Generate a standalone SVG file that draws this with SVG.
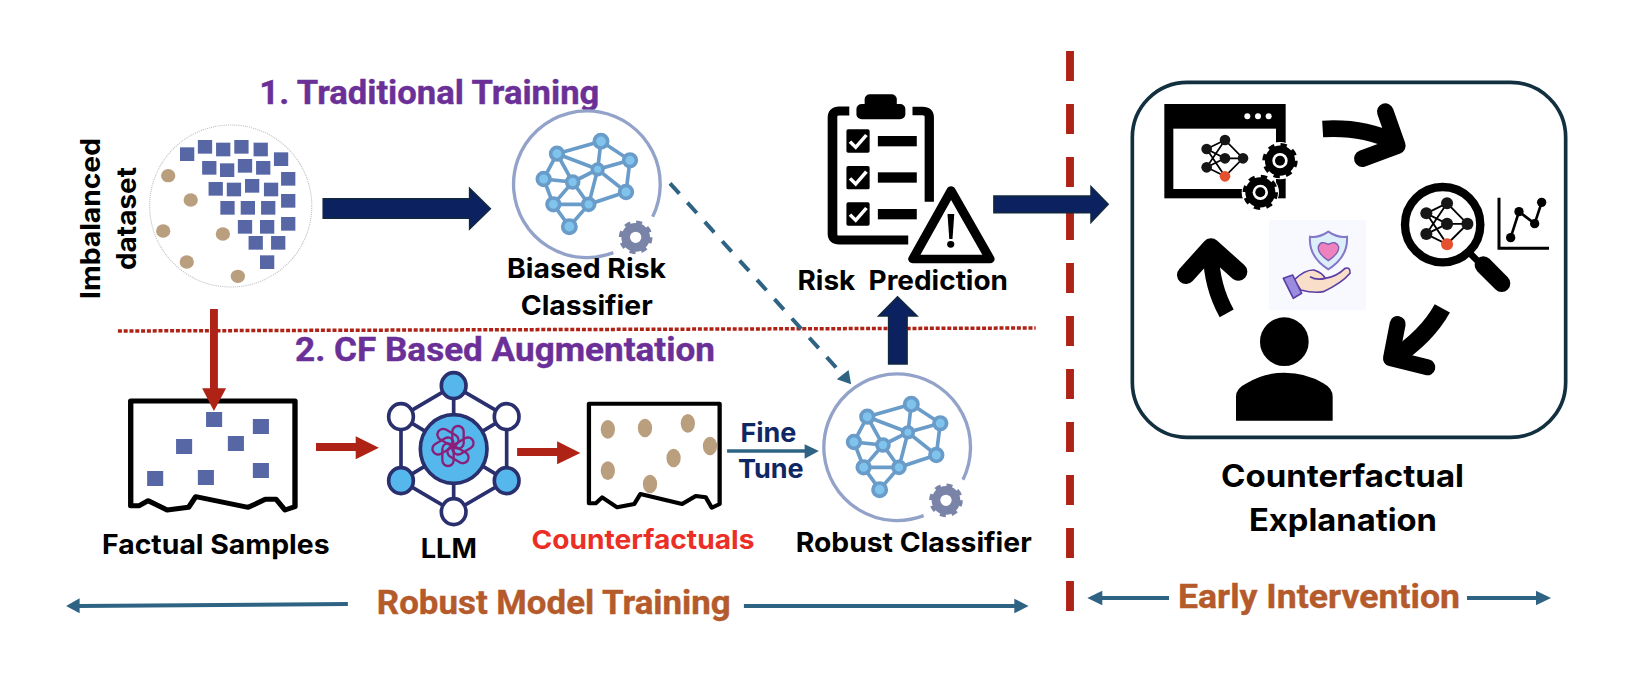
<svg xmlns="http://www.w3.org/2000/svg" xmlns:xlink="http://www.w3.org/1999/xlink" width="1636" height="686" viewBox="0 0 1636 686">
<style>
text{font-weight:700}
.b{font-family:"Inter","Liberation Sans",sans-serif;fill:#000;font-size:27px}
.p{font-family:"Roboto","Liberation Sans",sans-serif;fill:#6B3098;font-size:34px;stroke:#6B3098;stroke-width:.4}
.o{font-family:"Roboto","Liberation Sans",sans-serif;fill:#B55A2B;font-size:34px;stroke:#B55A2B;stroke-width:.4}
.n{font-family:"Inter","Liberation Sans",sans-serif;fill:#0F2763;font-size:26px}
.r{font-family:"Inter","Liberation Sans",sans-serif;fill:#EC2F26;font-size:26px}
.sq{fill:#5767A5}
.dot{fill:#BA9F7F}
.red{fill:#AF2316}
.navy{fill:#0C2260;stroke:#12283F;stroke-width:1.5}
.teal{fill:#2F6384}
.tl{stroke:#2F6384;fill:none}
.ed{stroke:#6A9CC9;stroke-width:11;fill:none}
.nd{fill:#80C4EE;stroke:#6A9CC9;stroke-width:11}
.k{stroke:#000;fill:none}
.hx{stroke:#2A2F6E;stroke-width:11;fill:none}
.kn{fill:none;stroke:#8A1F7A;stroke-width:7}
</style>
<defs>
<g id="gear">
<circle r="30" fill="none" stroke-width="26"/>
<circle r="43" fill="none" stroke-width="15" stroke-dasharray="17 16.8"/>
</g>
<g id="net">
<path class="ed" d="M171 161L303 124L390 181L378 276L293 208L303 124M390 181L293 208L171 161L218 246L131 237L171 161M131 237L160 313L218 246L266 313L293 208L218 246M160 313H266L378 276M160 313L208 380L266 313"/>
<g class="nd">
<circle cx="171" cy="161" r="19"/><circle cx="303" cy="124" r="20"/><circle cx="390" cy="181" r="19"/><circle cx="293" cy="208" r="16"/><circle cx="131" cy="237" r="19"/><circle cx="218" cy="246" r="18"/><circle cx="378" cy="276" r="19"/><circle cx="160" cy="313" r="19"/><circle cx="266" cy="313" r="18"/><circle cx="208" cy="380" r="20"/>
</g>
<path d="M340 458A220 220 0 1 1 458 350" fill="none" stroke="#93A2C8" stroke-width="10"/>
<use xlink:href="#gear" href="#gear" transform="translate(407 412)" stroke="#7A84A8"/>
</g>
<g id="mini">
<path d="M290 267L345 240L399 295L345 349L290 267M290 267L345 295L399 295M290 322L345 240M290 322L345 295M290 322L345 349M290 267L345 349" stroke="#000" stroke-width="5" fill="none"/>
<g fill="#161616"><circle cx="290" cy="267" r="16"/><circle cx="345" cy="240" r="16"/><circle cx="345" cy="295" r="16"/><circle cx="290" cy="322" r="16"/><circle cx="399" cy="295" r="16"/></g>
<circle cx="345" cy="349" r="16" fill="#E5502E"/>
</g>
<g id="wgear">
<circle r="56" fill="#fff"/>
<use xlink:href="#gear" href="#gear" stroke="#000" transform="scale(1.05)"/>
<circle r="23" fill="#fff"/><circle r="15" fill="#000"/>
</g>
</defs>

<rect width="1636" height="686" fill="#fff"/>

<g id="dataset" transform="translate(60 60) scale(.35714 .33333)">
<ellipse cx="478" cy="438" rx="227" ry="243" fill="none" stroke="#bbb" stroke-width="3" stroke-dasharray="3 3"/>
<g class="sq">
<rect x="336" y="262" width="40" height="41"/><rect x="386" y="240" width="40" height="41"/><rect x="437" y="248" width="40" height="41"/><rect x="488" y="240" width="40" height="41"/><rect x="542" y="248" width="40" height="41"/><rect x="599" y="277" width="40" height="41"/><rect x="398" y="303" width="40" height="41"/><rect x="448" y="310" width="40" height="41"/><rect x="498" y="297" width="40" height="41"/><rect x="549" y="303" width="40" height="41"/><rect x="619" y="336" width="40" height="41"/><rect x="416" y="366" width="40" height="41"/><rect x="467" y="368" width="40" height="41"/><rect x="518" y="357" width="40" height="41"/><rect x="571" y="368" width="40" height="41"/><rect x="619" y="402" width="40" height="41"/><rect x="449" y="423" width="40" height="41"/><rect x="506" y="423" width="40" height="41"/><rect x="563" y="423" width="40" height="41"/><rect x="498" y="480" width="40" height="41"/><rect x="560" y="480" width="40" height="41"/><rect x="619" y="471" width="40" height="41"/><rect x="528" y="528" width="40" height="41"/><rect x="591" y="528" width="40" height="41"/><rect x="560" y="586" width="40" height="41"/>
</g>
<g class="dot">
<circle cx="303" cy="347" r="20"/><circle cx="366" cy="420" r="20"/><circle cx="289" cy="513" r="20"/><circle cx="456" cy="522" r="20"/><circle cx="355" cy="606" r="20"/><circle cx="498" cy="649" r="20"/>
</g>
</g>
<g id="dataset-label">
<text class="b" transform="translate(100.4 299) rotate(-90)" textLength="161" lengthAdjust="spacingAndGlyphs">Imbalanced</text>
<text class="b" transform="translate(136 270) rotate(-90)" textLength="103" lengthAdjust="spacingAndGlyphs">dataset</text>
</g>

<g id="heading-1"><text class="p" x="259.3" y="104" textLength="340" lengthAdjust="spacingAndGlyphs">1. Traditional Training</text></g>
<g id="heading-2"><text class="p" x="295" y="361" textLength="420" lengthAdjust="spacingAndGlyphs">2. CF Based Augmentation</text></g>

<g id="biased-classifier">
<use xlink:href="#net" href="#net" transform="translate(500 100) scale(.33333)"/>
<text class="b" x="507" y="278" textLength="159" lengthAdjust="spacingAndGlyphs">Biased Risk</text>
<text class="b" x="520.7" y="315" textLength="132" lengthAdjust="spacingAndGlyphs">Classifier</text>
</g>

<g id="robust-classifier">
<use xlink:href="#net" href="#net" transform="translate(810.3 363) scale(.33333)"/>
<text class="b" x="795.7" y="552" textLength="236" lengthAdjust="spacingAndGlyphs">Robust Classifier</text>
</g>

<g id="risk-prediction">
<g transform="translate(560 60) scale(.35714 .33333)">
<path class="k" stroke-width="27" d="M810 153H782Q763 153 763 172V522Q763 540 782 540H975"/>
<path class="k" stroke-width="26" d="M987 153H1015Q1034 153 1034 172V425"/>
<rect x="830" y="132" width="137" height="46" rx="15"/>
<rect x="853" y="103" width="90" height="50" rx="15"/>
<rect x="802" y="208" width="65" height="70" rx="5"/><rect x="802" y="318" width="65" height="70" rx="5"/><rect x="802" y="427" width="65" height="70" rx="5"/>
<path d="M812 245L828 262L858 225M812 355L828 372L858 335M812 464L828 481L858 444" fill="none" stroke="#fff" stroke-width="10"/>
<rect x="890" y="228" width="109" height="31"/><rect x="890" y="337" width="109" height="31"/><rect x="890" y="447" width="109" height="31"/>
<path d="M1095 392L988 597H1204Z" fill="#fff" stroke="#fff" stroke-width="44" stroke-linejoin="round"/>
<path d="M1095 392L988 597H1204Z" fill="#fff" stroke="#000" stroke-width="26" stroke-linejoin="round"/>
<path d="M1085 462H1104L1099 537H1090Z"/>
<circle cx="1094" cy="553" r="10"/>
</g>
<text class="b" x="797.5" y="290" textLength="210.5" lengthAdjust="spacingAndGlyphs" xml:space="preserve">Risk  Prediction</text>
</g>

<g id="factual-samples">
<g transform="translate(60 340) scale(.35714 .33333)">
<path d="M198 183H658V500L630 510L605 478L575 478L527 502L380 470L360 502L300 510L247 482L222 497L198 497Z" fill="#fff" stroke="#000" stroke-width="15" stroke-linejoin="round"/>
<g class="sq"><rect x="409" y="216" width="45" height="45"/><rect x="540" y="237" width="45" height="45"/><rect x="325" y="297" width="45" height="45"/><rect x="470" y="288" width="45" height="45"/><rect x="244" y="393" width="45" height="45"/><rect x="386" y="390" width="45" height="45"/><rect x="540" y="369" width="45" height="45"/></g>
</g>
<text class="b" x="102" y="554" textLength="227.6" lengthAdjust="spacingAndGlyphs">Factual Samples</text>
</g>

<g id="llm">
<g transform="translate(375 365) scale(.33333)">
<path class="hx" d="M236 62L395 155V347L236 440L78 347V155Z"/>
<path class="hx" d="M236 62V440M78 155L395 347M395 155L78 347"/>
<g stroke="#2A2F6E" stroke-width="11">
<ellipse cx="236" cy="62" rx="37" ry="39" fill="#55B7EC"/><ellipse cx="395" cy="155" rx="37" ry="39" fill="#fff"/><ellipse cx="395" cy="347" rx="37" ry="39" fill="#55B7EC"/><ellipse cx="236" cy="440" rx="37" ry="39" fill="#fff"/><ellipse cx="78" cy="347" rx="37" ry="39" fill="#55B7EC"/><ellipse cx="78" cy="155" rx="37" ry="39" fill="#fff"/>
<ellipse cx="236" cy="252" rx="100" ry="103" fill="#55B7EC"/>
</g>
<g class="kn" transform="translate(234 243)">
<rect x="-2" y="-60" width="34" height="68" rx="17"/>
<rect x="-2" y="-60" width="34" height="68" rx="17" transform="rotate(60)"/>
<rect x="-2" y="-60" width="34" height="68" rx="17" transform="rotate(120)"/>
<rect x="-2" y="-60" width="34" height="68" rx="17" transform="rotate(180)"/>
<rect x="-2" y="-60" width="34" height="68" rx="17" transform="rotate(240)"/>
<rect x="-2" y="-60" width="34" height="68" rx="17" transform="rotate(300)"/>
</g>
</g>
<text class="b" x="420.7" y="558" textLength="56.3" lengthAdjust="spacingAndGlyphs">LLM</text>
</g>

<g id="counterfactuals">
<g transform="translate(560 340) scale(.35714 .33333)">
<path d="M81 191H447V492L425 503L408 472L380 468L342 492L225 462L208 492L160 502L118 472L100 490L81 490Z" fill="#fff" stroke="#000" stroke-width="12" stroke-linejoin="round"/>
<g class="dot"><ellipse cx="134" cy="268" rx="20" ry="28"/><ellipse cx="238" cy="264" rx="20" ry="28"/><ellipse cx="358" cy="250" rx="20" ry="28"/><ellipse cx="420" cy="318" rx="20" ry="28"/><ellipse cx="318" cy="354" rx="20" ry="28"/><ellipse cx="134" cy="392" rx="20" ry="28"/><ellipse cx="252" cy="432" rx="20" ry="28"/></g>
</g>
<text class="r" x="531.4" y="549" textLength="223" lengthAdjust="spacingAndGlyphs">Counterfactuals</text>
</g>

<g id="fine-tune">
<text class="n" x="740.4" y="442" textLength="56" lengthAdjust="spacingAndGlyphs">Fine</text>
<text class="n" x="737.9" y="478" textLength="65.7" lengthAdjust="spacingAndGlyphs">Tune</text>
</g>

<g id="explanation-panel">
<g transform="translate(1110 60) scale(.33333)">
<rect x="67" y="67" width="1300" height="1065" rx="165" fill="#fff" stroke="#12303F" stroke-width="11"/>
<rect x="163" y="132" width="364" height="283"/>
<rect x="190" y="206" width="308" height="181" fill="#fff"/>
<g fill="#fff"><circle cx="412" cy="169" r="9"/><circle cx="444" cy="169" r="9"/><circle cx="476" cy="169" r="9"/></g>
<use xlink:href="#mini" href="#mini"/>
<use xlink:href="#wgear" href="#wgear" transform="translate(510 302)"/>
<use xlink:href="#wgear" href="#wgear" transform="translate(451 397)"/>
<circle cx="998" cy="494" r="113" fill="#fff" stroke="#000" stroke-width="25"/>
<use xlink:href="#mini" href="#mini" transform="translate(621.3 158.3) scale(1.13)"/>
<path class="k" stroke-width="20" d="M1080 580L1115 615"/>
<path class="k" stroke-width="52" stroke-linecap="round" d="M1120 615L1175 670"/>
<path class="k" stroke-width="9" d="M1167 413V565H1317"/>
<path class="k" stroke-width="8" d="M1202 533L1227 455L1274 491L1295 427"/>
<circle cx="1202" cy="533" r="14"/><circle cx="1227" cy="455" r="14"/><circle cx="1274" cy="491" r="14"/><circle cx="1295" cy="427" r="14"/>
<circle cx="523" cy="845" r="73"/>
<path d="M378 1082V1010Q378 985 410 970Q460 938 523 938Q590 938 640 970Q668 985 668 1010V1082Z"/>
<path class="k" stroke-width="50" d="M638 207Q760 200 850 245"/>
<path class="k" stroke-width="50" stroke-linecap="round" stroke-linejoin="round" d="M826 155L862 257L757 296"/>
<path class="k" stroke-width="52" d="M997 745Q950 830 850 895"/>
<path class="k" stroke-width="48" stroke-linecap="round" stroke-linejoin="round" d="M863 792L843 895L952 922"/>
<path class="k" stroke-width="48" d="M350 760Q300 670 303 560"/>
<path class="k" stroke-width="54" stroke-linecap="round" stroke-linejoin="round" d="M228 645L303 562L385 635"/>
<rect x="477" y="480" width="291" height="270" fill="#F7F9FF"/>
<path d="M655 515Q625 535 600 530Q595 590 655 628Q715 590 711 530Q685 535 655 515Z" fill="#DDEEFB" stroke="#8277C9" stroke-width="6"/>
<path d="M655 602Q622 580 625 560Q632 540 655 553Q678 540 686 560Q688 580 655 602Z" fill="#EE82BE" stroke="#7B5DB5" stroke-width="4"/>
<path d="M552 660Q585 628 612 630Q640 640 645 655Q680 650 705 625Q722 620 720 640Q695 670 640 695Q610 700 572 690Z" fill="#F9DEC9" stroke="#5B3FA5" stroke-width="5" stroke-linejoin="round"/>
<path d="M645 655Q620 662 600 650" fill="none" stroke="#5B3FA5" stroke-width="5"/>
<path d="M520 655L548 645L575 700L550 715Z" fill="#9C8CE0" stroke="#5B3FA5" stroke-width="5" stroke-linejoin="round"/>
</g>
<text class="b" style="font-size:31px" x="1221" y="487" textLength="243" lengthAdjust="spacingAndGlyphs">Counterfactual</text>
<text class="b" style="font-size:31px" x="1249" y="531" textLength="188" lengthAdjust="spacingAndGlyphs">Explanation</text>
</g>

<g id="band-labels">
<text class="o" x="376.8" y="614" textLength="354" lengthAdjust="spacingAndGlyphs">Robust Model Training</text>
<text class="o" x="1178" y="608" textLength="282" lengthAdjust="spacingAndGlyphs">Early Intervention</text>
</g>

<g id="connectors">
<line x1="117.9" y1="331" x2="1035.7" y2="328" stroke="#AF2316" stroke-width="3.5" stroke-dasharray="4 1.8"/>
<line x1="1070" y1="51" x2="1070" y2="612" stroke="#AF2316" stroke-width="7.9" stroke-dasharray="30 23"/>
<polygon class="navy" points="323.2,198.7 469.6,198.7 469.6,188.3 490.4,208.7 469.6,229 469.6,218.3 323.2,218.3"/>
<polygon class="navy" points="993.9,196 1091,196 1091,186.7 1108.2,204.3 1091,222.3 1091,212.7 993.9,212.7"/>
<polygon class="navy" points="897.5,296.7 917.1,316 907.1,316 907.1,364 888.6,364 888.6,316 878.6,316"/>
<polygon class="red" points="210,309 217.9,309 217.9,388.3 226.1,388.3 213.9,411 202.1,388.3 210,388.3"/>
<polygon class="red" points="316,443 355.7,443 355.7,436.3 378.9,447.7 355.7,459.3 355.7,451 316,451"/>
<polygon class="red" points="517.1,448 557.1,448 557.1,441.3 580.4,453 557.1,464.3 557.1,456 517.1,456"/>
<line class="tl" x1="670" y1="183.3" x2="840.4" y2="372.3" stroke-width="4" stroke-dasharray="14 12"/>
<polygon class="teal" points="851.1,384.3 836.8,379.3 848.6,370"/>
<line class="tl" x1="727.1" y1="451" x2="806" y2="451" stroke-width="3.4"/>
<polygon class="teal" points="804.6,444.3 818.9,451 804.6,458.7"/>
<line class="tl" x1="347.9" y1="604" x2="79" y2="606" stroke-width="4"/>
<polygon class="teal" points="66.1,606 79.6,598.3 79.6,613.3"/>
<line class="tl" x1="743.9" y1="606" x2="1015" y2="606" stroke-width="4"/>
<polygon class="teal" points="1028.6,606 1014.3,598.7 1014.3,613.3"/>
<line class="tl" x1="1169" y1="598" x2="1102" y2="598" stroke-width="4"/>
<polygon class="teal" points="1087.3,598 1102.3,590.7 1102.3,605.3"/>
<line class="tl" x1="1467" y1="598" x2="1537" y2="598" stroke-width="4"/>
<polygon class="teal" points="1551,598 1536,590.7 1536,605.3"/>
</g>
</svg>
